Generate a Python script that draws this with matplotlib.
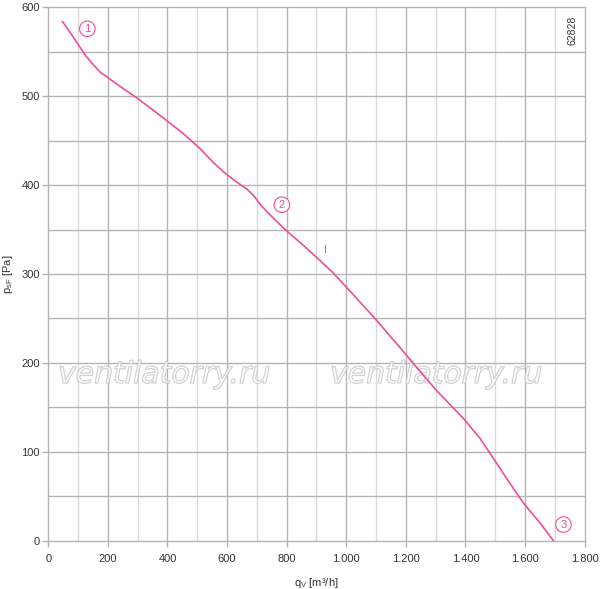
import matplotlib
matplotlib.use("Agg")
import matplotlib.pyplot as plt
import matplotlib.patheffects as pe

plt.rcParams['font.family'] = ['Liberation Sans', 'DejaVu Sans']
plt.rcParams['mathtext.default'] = 'regular'

# Curve data (flow q_V [m3/h], static pressure p_sF [Pa])
flow = [48, 75, 101, 125, 151, 175, 200, 250, 300, 350, 400, 453, 480, 510, 535, 565,
        595, 630, 665, 690, 712, 740, 795, 850, 890, 957, 1020, 1091, 1181, 1226, 1300,
        1393, 1449, 1483, 1540, 1595, 1650, 1695]
pressure = [584, 571, 558, 546, 535.5, 527, 521, 509, 497.5, 485, 472, 458, 450, 441, 432, 422,
            413, 404, 396, 388, 378, 368, 350, 334, 322, 301, 278, 252, 217, 199, 170,
            137.5, 115, 98, 69, 42, 20, 0]

x_ticks = [0, 200, 400, 600, 800, 1000, 1200, 1400, 1600, 1800]
x_tick_labels = ['0', '200', '400', '600', '800', '1.000', '1.200', '1.400', '1.600', '1.800']
y_ticks = [0, 100, 200, 300, 400, 500, 600]

# annotations: (label, x, y)
markers = [('1', 131, 576), ('2', 784, 378), ('3', 1729, 18)]
op_point = ('I', 932, 327)

pink = '#ee4d9a'
dark_grid = '#b4b4b4'
light_grid = '#dadada'

fig = plt.figure(figsize=(6.0, 5.89), dpi=100)
ax = fig.add_axes([0.0805, 0.0823, 0.8938, 0.905])
ax.set_xlim(0, 1800)
ax.set_ylim(0, 600)

# grid
for xv in range(100, 1800, 100):
    ax.axvline(xv, color=dark_grid if xv % 200 == 0 else light_grid, lw=1.0, zorder=0)
for yv in range(50, 600, 50):
    ax.axhline(yv, color=dark_grid, lw=1.0, zorder=0)

for s in ax.spines.values():
    s.set_color(dark_grid)
    s.set_linewidth(1.0)

ax.set_xticks(x_ticks)
ax.set_xticklabels(x_tick_labels)
ax.set_yticks(y_ticks)
ax.tick_params(axis='both', colors=dark_grid, labelcolor='#333333', labelsize=8,
               length=4, width=1.0, direction='out')
ax.tick_params(axis='x', pad=6)
ax.tick_params(axis='y', pad=2)

ax.set_xlabel('q$_V$ [m³/h]', fontsize=8, color='#333333', labelpad=8)
ax.set_ylabel('p$_{sF}$ [Pa]', fontsize=8, color='#333333', labelpad=5)

# watermarks
for wx in [164, 436]:
    xd = ax.transData.inverted().transform((wx, 0))[0]
    ax.text(xd, 187, 'ventilatorry.ru', fontsize=21.5, style='italic', family='DejaVu Sans',
            color=(1, 1, 1, 0.4), ha='center', va='center', zorder=1,
            path_effects=[pe.withStroke(linewidth=0.9, foreground='#c8c8c8')])

ax.plot(flow, pressure, color=pink, lw=1.2, zorder=3, clip_on=False,
        solid_joinstyle='round')

for lab, mx, my in markers:
    ax.text(mx, my, lab, fontsize=8, color=pink, ha='center', va='center', zorder=4,
            bbox=dict(boxstyle='circle,pad=0.25', fc='white', ec=pink, lw=0.8))
ax.text(op_point[1], op_point[2], op_point[0], fontsize=8, color=pink,
        ha='center', va='center', zorder=4)

ax.text(0.987, 0.985, '62828', transform=ax.transAxes, rotation=90, fontsize=7.5,
        color='#333333', ha='right', va='top')

fig.savefig('out.png', dpi=100)
